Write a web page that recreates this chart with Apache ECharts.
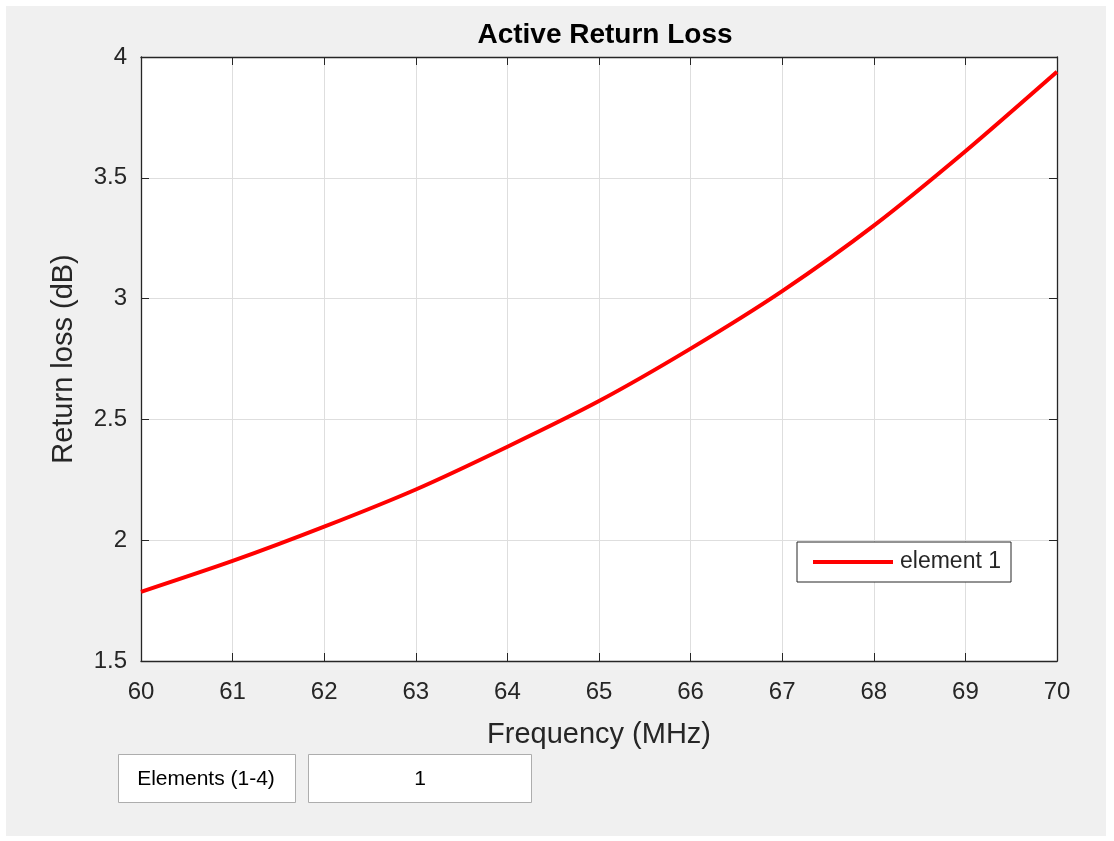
<!DOCTYPE html>
<html>
<head>
<meta charset="utf-8">
<script src="https://cdn.jsdelivr.net/npm/echarts@6/dist/echarts.min.js"></script>
<style>
  html, body { margin: 0; padding: 0; background: #fff; }
  #chart { width: 1114px; height: 841px; }
</style>
</head>
<body>
<div id="chart"></div>
<script>
// data
var freqs = [60, 61, 62, 63, 64, 65, 66, 67, 68, 69, 70];
var returnLoss = [1.786, 1.914, 2.056, 2.21, 2.387, 2.576, 2.793, 3.031, 3.302, 3.61, 3.939];
var seriesName = 'element 1';
var elementsLabel = 'Elements (1-4)';
var elementsValue = '1';

var points = freqs.map(function (f, i) { return [f, returnLoss[i]]; });

var axisColor = '#262626';
var font = '"Liberation Sans", Arial, sans-serif';

var myChart = echarts.init(document.getElementById('chart'));

var option = {
  backgroundColor: '#f0f0f0',
  animation: false,
  title: {
    text: 'Active Return Loss',
    left: 600,
    textAlign: 'center',
    top: 16,
    textStyle: { fontFamily: font, fontSize: 28, fontWeight: 'bold', color: '#000' }
  },
  legend: {
    data: [seriesName],
    left: 797,
    top: 542,
    orient: 'vertical',
    icon: 'rect',
    itemWidth: 80,
    itemHeight: 4,
    padding: [8, 10, 8, 16],
    backgroundColor: '#fff',
    borderColor: axisColor,
    borderWidth: 1,
    borderRadius: 0,
    textStyle: { fontFamily: font, fontSize: 23, lineHeight: 24, color: axisColor, padding: [0, 0, 0, 2] }
  },
  grid: {
    left: 141, right: 57, top: 57, bottom: 180,
    show: true,
    backgroundColor: '#fff',
    borderWidth: 0,
    containLabel: false,
    outerBoundsMode: 'none'
  },
  xAxis: [{
    type: 'value',
    min: 60, max: 70, interval: 1,
    name: 'Frequency (MHz)',
    nameLocation: 'middle',
    nameGap: 59,
    nameTextStyle: { fontFamily: font, fontSize: 29, color: axisColor },
    axisLine: { show: true, lineStyle: { color: axisColor, width: 1.3 } },
    axisTick: { show: true, inside: true, length: 8, lineStyle: { color: axisColor } },
    axisLabel: { fontFamily: font, fontSize: 24, color: axisColor, margin: 19 },
    splitLine: { show: true, lineStyle: { color: '#dedede', width: 1 } }
  }, {
    type: 'value',
    position: 'top',
    min: 60, max: 70, interval: 1,
    axisLine: { show: true, lineStyle: { color: axisColor, width: 1.3 } },
    axisTick: { show: true, inside: true, length: 8, lineStyle: { color: axisColor } },
    axisLabel: { show: false },
    splitLine: { show: false }
  }],
  yAxis: [{
    type: 'value',
    min: 1.5, max: 4, interval: 0.5,
    name: 'Return loss (dB)',
    nameLocation: 'middle',
    nameGap: 63,
    nameTextStyle: { fontFamily: font, fontSize: 29, color: axisColor },
    axisLine: { show: true, lineStyle: { color: axisColor, width: 1.3 } },
    axisTick: { show: true, inside: true, length: 8, lineStyle: { color: axisColor } },
    axisLabel: { fontFamily: font, fontSize: 24, color: axisColor, margin: 14 },
    splitLine: { show: true, lineStyle: { color: '#dedede', width: 1 } }
  }, {
    type: 'value',
    position: 'right',
    min: 1.5, max: 4, interval: 0.5,
    axisLine: { show: true, lineStyle: { color: axisColor, width: 1.3 } },
    axisTick: { show: true, inside: true, length: 8, lineStyle: { color: axisColor } },
    axisLabel: { show: false },
    splitLine: { show: false }
  }],
  series: [{
    name: seriesName,
    type: 'line',
    xAxisIndex: 0,
    yAxisIndex: 0,
    data: points,
    smooth: 0.25,
    showSymbol: false,
    lineStyle: { color: '#ff0000', width: 4 },
    itemStyle: { color: '#ff0000' }
  }],
  graphic: [
    // white page margin round the figure
    { type: 'rect', z: 100, shape: { x: 0, y: 0, width: 1114, height: 6 }, style: { fill: '#fff' } },
    { type: 'rect', z: 100, shape: { x: 0, y: 836, width: 1114, height: 5 }, style: { fill: '#fff' } },
    { type: 'rect', z: 100, shape: { x: 0, y: 0, width: 6, height: 841 }, style: { fill: '#fff' } },
    { type: 'rect', z: 100, shape: { x: 1106, y: 0, width: 8, height: 841 }, style: { fill: '#fff' } },
    // controls under the axes
    { type: 'rect', shape: { x: 118.5, y: 754.5, width: 177, height: 48 }, style: { fill: '#fff', stroke: '#adadad', lineWidth: 1 } },
    { type: 'text', x: 206, y: 779, style: { text: elementsLabel, fontFamily: font, fontSize: 21, fill: '#000', align: 'center', verticalAlign: 'middle' } },
    { type: 'rect', shape: { x: 308.5, y: 754.5, width: 223, height: 48 }, style: { fill: '#fff', stroke: '#adadad', lineWidth: 1 } },
    { type: 'text', x: 420, y: 779, style: { text: elementsValue, fontFamily: font, fontSize: 21, fill: '#000', align: 'center', verticalAlign: 'middle' } }
  ]
};

myChart.setOption(option);
</script>
</body>
</html>
